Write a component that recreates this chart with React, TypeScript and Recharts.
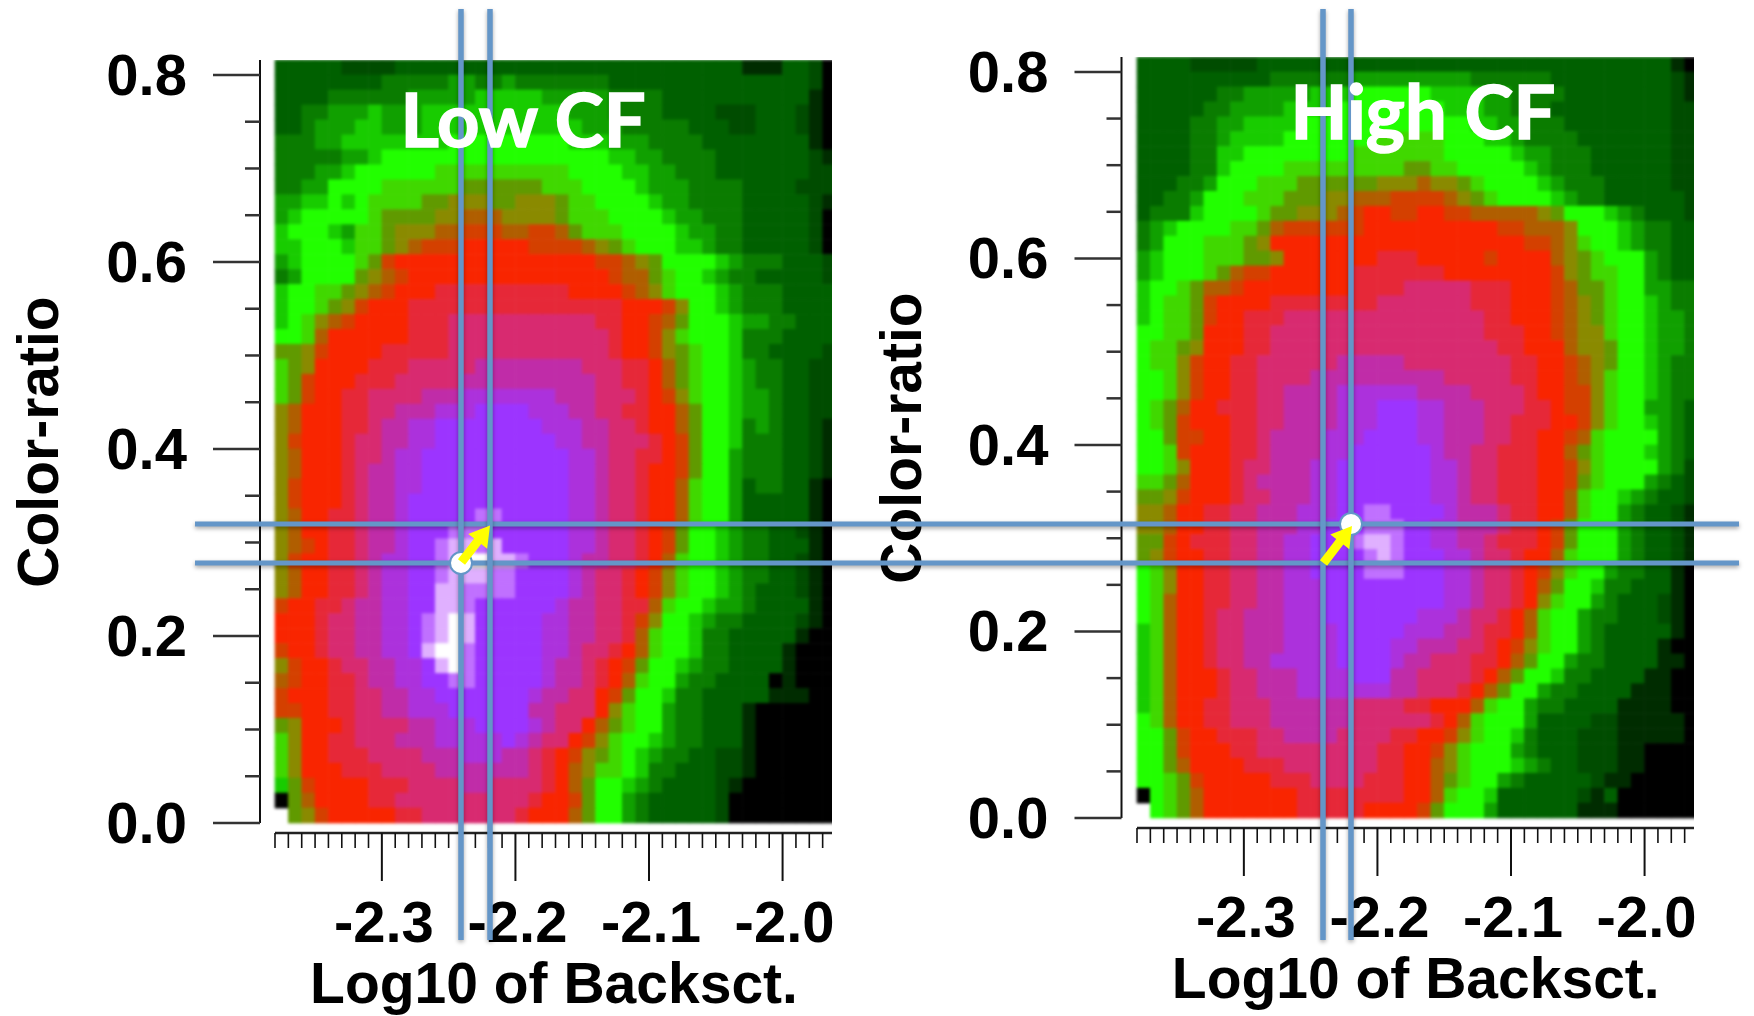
import React from "react";
import {
  ScatterChart,
  Scatter,
  XAxis,
  YAxis,
  ReferenceLine,
  Label,
} from "recharts";

// density level -> colour, from black through green, red and purple to white
const levelKeys = "0123456789abcdefghijkl";
const levelColors = [
  "#000000", "#002c00", "#004c00", "#006000", "#0a7c00", "#10a000", "#18cc00", "#22ff00",
  "#40d800", "#609a00", "#8a8a00", "#b05e00", "#d44000", "#f92500", "#e62838", "#d82a70",
  "#c02ca8", "#ac31dc", "#9c34ff", "#c070ff", "#e0b0ff", "#ffffff",
];

// top row first, one character per cell, "." is an empty cell
const lowCfRows = [
  "333332 222333 333333 333333 333333 333331 113320",
  "333333 334444 455445 444444 433333 333333 333320",
  "333344 444455 555666 665555 544443 333333 333310",
  "334455 565556 666666 666655 544443 333222 333210",
  "334555 665556 666666 666665 554444 433322 333210",
  "444556 666666 677777 777766 655544 443333 333310",
  "444445 567777 777777 777777 766554 444333 333321",
  "444556 777777 888888 888877 776655 444333 333322",
  "445577 778888 889999 998887 777655 544443 333222",
  "556676 788889 9aaa99 aaa988 777765 544443 333321",
  "567777 789999 aabbba aaa988 877776 554443 333320",
  "677765 889aaa bbcccb bccb98 887777 655443 333320",
  "667776 889abc ccdddd dccccb a98777 665443 333320",
  "567777 89cddd dddddd dddddd ccba97 777654 443332",
  "457777 9abcdd dddddd dddddd dcbb98 776544 333332",
  "677889 abcddd eeeeee eeeedd ddcba8 777654 443333",
  "67789a cdddee eeeeee eeeeee eedddc a77654 443333",
  "678abc ddddee efffff ffffff eeddcb 977765 544333",
  "778bdd ddddee efffff ffffff feddca 877764 443333",
  "99acdd ddeeee efffff ffffff feddca 987764 433332",
  "89addd deeeff fffggg gggggf ffeedb 987765 443322",
  "89cddd eeefff ffgggg gggggg ffeedb 987765 443322",
  "89cdde effffg gghhhh hhhggg fffedc a87765 543322",
  "abddde effggg hhhiii ihhhgg ffeedd b97765 543322",
  "abddde efgghh iiiiii iihhhg gffedd b97764 543321",
  "acddde ffgghh iiiiii iiihhg gfffed c97764 443321",
  "abddde ffghhi iiiiii iiiihh gffeed c97754 443321",
  "abddde fgghhi iiiiii iiiihh gffedd c97754 443321",
  "acddde fgghhi iiiiii iiiihh gffedd b87753 443310",
  "acddde fgghii iiiiii iiiihh gffedd b87753 333310",
  "abddee fgghii iiijji iiiihh gffedd b87753 333310",
  "abddee fgghii ijjjii iiiihh gffedc 977654 433210",
  "abcdee fgghii jkkjki iiiihh gffedc 977654 433310",
  "acddee fghhii jkllkk jiiihg gffedb 877654 433210",
  "abddee fghhii jkkkjj iiiihg ffedca 877654 433210",
  "abddee fghhii kkjjjj iiiihg ffedca 877654 333210",
  "cddeef gghhii kkjiii iiihgg ffeeb8 776554 333310",
  "dddeff gghhij klkiii iihhgg ffeca7 765443 333210",
  "dddeff gghhij klkiii iihhgg ffeb87 764433 333100",
  "cddeff gghhik lljiii iihhgf fedb87 764433 331000",
  "acddef fgghhi kljiii iihggf edc977 654433 331000",
  "bcddee fgghhi ijjiii iihggf edb877 544333 301000",
  "cdddee ffgghh iiiiii ihggff dc9776 443333 311100",
  "ccddee ffgghh hiiiii iggfff da8775 443331 000000",
  "9addde ffffgg hhhiii ihgffd b98775 443331 000000",
  "8addee fffggg hhhhhi hgffdc a87765 443331 000000",
  "8addee effffg gghhhg gfedca 987654 433221 000000",
  "8addde eeffff gggggg gfedba 887644 333221 000000",
  "69cddd deeeff ffggff ffedb9 776543 333210 000000",
  "09bddd deefff ffffff feddc9 775433 333200 000000",
  ".9acdd dddeef ffffff edddb9 775433 333200 000000",
];

const highCfRows = [
  "333322 222333 333333 333333 333333 333333 333310",
  "333333 333344 444455 555555 544444 433333 333321",
  "333333 445555 566677 777766 665544 443333 333321",
  "333334 455556 666777 777776 665544 433333 333322",
  "333344 556666 777777 777777 766554 443333 333322",
  "333344 566667 777777 888887 776654 444333 333322",
  "333344 667777 777788 888887 777765 544433 333322",
  "333344 677778 888888 889988 777776 544433 333322",
  "333445 777888 999999 aaabaa 987777 654443 333322",
  "334457 778889 99aabb bccccb a98777 765443 333332",
  "344467 777899 aaabcd dccddc cbbbbb a97776 543332",
  "456777 7889bc cccccd dddddd dddccb bba777 654433",
  "457778 889add dddddd dddddd dddddc cba877 654433",
  "567778 8899ad dddddd eeeddd ddcddd dba987 775433",
  "567778 9bccdd ddddee eeeeed dddddd dca988 775433",
  "67789b bcdddd ddddee eeffff feeedd dcb998 775544",
  "67889c ddddee eeeeee ffffff feeedd dcba98 776544",
  "67889c ddeeef ffffff ffffff ffeedd dcba98 776554",
  "77889d ddeeff ffffff ffffff ffeeed dcbaa8 776554",
  "7889ad ddeeff ffffff ffffff fffeed ddbaa9 776554",
  "788acd deefff fffggg ggffff ffffee ddcba9 776544",
  "778acd deefff fggggg gggggf ffffee ddcba8 776544",
  "778acd deeffg ggghhh hhhggg gffffe ddcca8 776544",
  "789bdd eeeffg ggghhh iiihhg ggfffe edcca8 775543",
  "789cdd deeffg ggghhh iiihhg ggffee eddca8 776543",
  "779ccd deefgg gghhhi iiihhg ggffee ddcb87 777543",
  "778cdd deefgg gghhii iiiihg gffeee ddb987 776543",
  "778add deffgg ghhiii iiiihh gffeee ddca87 777542",
  "889bdd defggg ghhiii iiiihh gffeee ddc987 775432",
  "99acdd deffgg ghhiii iiiihh gffeee ddb877 654332",
  "aabdde effggg hhhiij jiiiih gggfee ddb877 543321",
  "aabdde effggg hhiiij jjiihh gggfee dc9777 543321",
  "99cdee effggh hiiijk kjiihh ggfeee dc9777 543321",
  "9acdde effggh hiiiij kjiiih hgffed db8777 543321",
  "78adde effggh hiiiij jjiiih hgffed ca8775 443310",
  "78adde effggh hhiiii iiiiih hgffed b97764 433310",
  "78bdde effggh hhiiii iiiiih hgffed a87754 333210",
  "78bdde ffgggh hhiiii iiihhh gffedb 877544 333210",
  "68bdde ffgggh hhhiii iihhhg gfeedb 877543 333310",
  "68bdde ffgggh hhhiii ihhggg ffedca 877543 333100",
  "68bdde ffgghh hhhiii ihggff feedb9 775443 333110",
  "68bddd effggg hhhhii iggfff fedb97 764433 331100",
  "68bddd effggg hhhhhh hggfff edb977 544333 311100",
  "68bdde efffgg ggggff ffeedd db8775 443333 111100",
  "78bdde efffgg ggggff ffffed b87775 333322 111110",
  "779cdd eeeffg gggfff feeddc a87764 333222 111110",
  "779cdd deefff ffffff eeddca 877754 333222 110000",
  "779bdd ddeeef ffffff eeddba 877765 433222 110000",
  "7789cd ddddee effffe eeddb9 877543 333321 100000",
  "0789bd dddddd eeeeee eeddb8 776333 333213 000000",
  ".789bd dddddd eeeeed dddc97 775333 333111 000000",
];

const xStart = -2.38;
const xEnd = -1.963;
const xCell = 0.01;
const yCell = 0.016;
const yTop = 0.816;

const xTicks = [
  -2.38, -2.37, -2.36, -2.35, -2.34, -2.33, -2.32, -2.31, -2.3, -2.29, -2.28, -2.27, -2.26, -2.25,
  -2.24, -2.23, -2.22, -2.21, -2.2, -2.19, -2.18, -2.17, -2.16, -2.15, -2.14, -2.13, -2.12, -2.11,
  -2.1, -2.09, -2.08, -2.07, -2.06, -2.05, -2.04, -2.03, -2.02, -2.01, -2.0, -1.99, -1.98, -1.97,
];
const xMajor = [-2.3, -2.2, -2.1, -2.0];
const yTicks = [0, 0.05, 0.1, 0.15, 0.2, 0.25, 0.3, 0.35, 0.4, 0.45, 0.5, 0.55, 0.6, 0.65, 0.7, 0.75, 0.8];
const yMajor = [0, 0.2, 0.4, 0.6, 0.8];

// reference values marked across the two panels, in page pixels on the overlay
const lowCfLines = [461, 490];
const highCfLines = [1323, 1351];
const crossLines = [524, 563];
const markers = [
  { x: 461, y: 563 },
  { x: 1351, y: 524 },
];
const arrows = [
  { x: 461.5, y: 562, tipX: 490, tipY: 525.5 },
  { x: 1323.5, y: 563, tipX: 1352, tipY: 526 },
];
const titles = [
  { x: 523, y: 147, text: "Low CF" },
  { x: 1423, y: 139, text: "High CF" },
];

const axisFont = "'Liberation Sans', Arial, sans-serif";
const lineBlue = "#6496c8";

function cellsFrom(rows: string[]) {
  const cells: { x: number; y: number; level: string }[] = [];
  rows.forEach((row, r) => {
    row.replace(/ /g, "").split("").forEach((level, c) => {
      if (level === ".") return;
      cells.push({ x: xStart + xCell * (c + 0.5), y: yTop - yCell * (r + 0.5), level });
    });
  });
  return cells;
}

function XTick({ x, y, payload }: any) {
  const major = xMajor.includes(payload.value);
  return (
    <g>
      <line x1={x} x2={x} y1={y} y2={y + (major ? 48 : 15)} stroke="#111" strokeWidth={major ? 2 : 1.6} />
      {major && (
        <text x={x + 2} y={y + 109} textAnchor="middle" fontFamily={axisFont} fontWeight="bold" fontSize={58} fill="#000">
          {payload.value.toFixed(1)}
        </text>
      )}
    </g>
  );
}

function YTick({ x, y, payload }: any) {
  const major = yMajor.includes(payload.value);
  return (
    <g>
      <line x1={x} x2={x - (major ? 47 : 15)} y1={y} y2={y} stroke="#333" strokeWidth={2.5} />
      {major && (
        <text x={x - 73} y={y + 20} textAnchor="end" fontFamily={axisFont} fontWeight="bold" fontSize={58} fill="#000">
          {payload.value.toFixed(1)}
        </text>
      )}
    </g>
  );
}

function Panel({ rows, left, plotLeft, plotRight, plotTop, plotBottom, zero, width, ylabel }: any) {
  const pxPerX = 1336;
  const pxPerY = (zero - plotTop) / yTop;
  const xMin = xStart - plotLeft.gap / pxPerX;
  const yMin = -(plotBottom - zero) / pxPerY;
  const cellW = xCell * pxPerX + 0.6;
  const cellH = yCell * pxPerY + 0.6;
  const data = cellsFrom(rows);

  return (
    <div style={{ position: "absolute", left, top: 0 }}>
      <ScatterChart
        width={width}
        height={1016}
        margin={{ top: plotTop, right: width - (plotRight - left), bottom: 0, left: 0 }}
      >
        <XAxis
          type="number"
          dataKey="x"
          domain={[xMin, xEnd]}
          ticks={xTicks}
          interval={0}
          allowDataOverflow
          height={1016 - plotBottom}
          axisLine={false}
          tickLine={false}
          tickSize={0}
          tickMargin={0}
          tick={(p: any) => <XTick {...p} />}
        >
          <Label
            value="Log10 of Backsct."
            position="insideBottom"
            offset={plotBottom === 833 ? 13 : 18}
            dx={8}
            fontFamily={axisFont}
            fontWeight="bold"
            fontSize={57}
            fill="#000"
          />
        </XAxis>
        <YAxis
          type="number"
          dataKey="y"
          domain={[yMin, yTop]}
          ticks={yTicks}
          interval={0}
          allowDataOverflow
          width={plotLeft.x - left}
          axisLine={false}
          tickLine={false}
          tickSize={0}
          tickMargin={0}
          tick={(p: any) => <YTick {...p} />}
        >
          <Label
            content={() => (
              <text
                transform={`translate(${ylabel.x},${ylabel.y}) rotate(-90)`}
                textAnchor="middle"
                fontFamily={axisFont}
                fontWeight="bold"
                fontSize={57}
                fill="#000"
              >
                Color-ratio
              </text>
            )}
          />
        </YAxis>
        <Scatter
          className="heat"
          data={data}
          isAnimationActive={false}
          shape={(p: any) => (
            <rect
              x={p.cx - cellW / 2}
              y={p.cy - cellH / 2}
              width={cellW}
              height={cellH}
              fill={levelColors[levelKeys.indexOf(p.payload.level)]}
            />
          )}
        />
        <ReferenceLine
          segment={[
            { x: xMin, y: 0 },
            { x: xMin, y: yTop },
          ]}
          stroke="#111"
          strokeWidth={2}
        />
        <ReferenceLine
          segment={[
            { x: xStart, y: yMin },
            { x: xEnd, y: yMin },
          ]}
          stroke="#222"
          strokeWidth={2.5}
        />
      </ScatterChart>
    </div>
  );
}

function ArrowShape({ cx, cy, payload }: any) {
  const dx = payload.tipX - payload.x;
  const dy = payload.tipY - payload.y;
  const len = Math.hypot(dx, dy);
  const ux = dx / len;
  const uy = dy / len;
  const nx = -uy;
  const ny = ux;
  const neck = len - 20;
  const pt = (along: number, side: number) =>
    `${cx + ux * along + nx * side},${cy + uy * along + ny * side}`;
  return (
    <polygon
      points={[pt(0, 4.5), pt(neck, 4.5), pt(neck, 12), pt(len, 0), pt(neck, -12), pt(neck, -4.5), pt(0, -4.5)].join(" ")}
      fill="#ffff00"
    />
  );
}

function Overlay() {
  const shadow = { filter: "drop-shadow(0 2px 2px rgba(0,0,0,0.35))" };
  return (
    <div style={{ position: "absolute", left: 0, top: 0 }}>
      <ScatterChart width={1754} height={1016} margin={{ top: 0, right: 0, bottom: 0, left: 0 }}>
        <XAxis type="number" dataKey="x" domain={[0, 1754]} hide />
        <YAxis type="number" dataKey="y" domain={[0, 1016]} reversed hide />
        {crossLines.map((y) => (
          <ReferenceLine
            key={y}
            segment={[
              { x: 195, y },
              { x: 1739, y },
            ]}
            stroke={lineBlue}
            strokeWidth={5}
            style={shadow}
          />
        ))}
        {[...lowCfLines, ...highCfLines].map((x) => (
          <ReferenceLine
            key={x}
            segment={[
              { x, y: 9 },
              { x, y: 940 },
            ]}
            stroke={lineBlue}
            strokeWidth={5.5}
            style={shadow}
          />
        ))}
        <Scatter
          data={markers}
          isAnimationActive={false}
          shape={(p: any) => <circle cx={p.cx} cy={p.cy} r={11} fill="#fff" stroke={lineBlue} strokeWidth={2} />}
        />
        <Scatter data={arrows} isAnimationActive={false} shape={(p: any) => <ArrowShape {...p} />} />
        <Scatter
          data={titles}
          isAnimationActive={false}
          shape={(p: any) => (
            <text
              x={p.cx}
              y={p.cy}
              textAnchor="middle"
              fontFamily="Lato, 'Open Sans', sans-serif"
              fontWeight="bold"
              fontSize={74}
              fill="#fff"
              stroke="#fff"
              strokeWidth={1.5}
            >
              {p.payload.text}
            </text>
          )}
        />
      </ScatterChart>
    </div>
  );
}

export default function App() {
  return (
    <div style={{ position: "absolute", left: 0, top: 0, width: 1754, height: 1016, background: "#fff", overflow: "hidden" }}>
      <style>{`.heat{filter:blur(1.6px)}`}</style>
      <div style={{ filter: "blur(0.6px)" }}>
        <Panel
          rows={lowCfRows}
          left={0}
          width={860}
          plotLeft={{ x: 260, gap: 15 }}
          plotRight={832}
          plotTop={60}
          plotBottom={833}
          zero={823}
          ylabel={{ x: 58, y: 442 }}
        />
        <Panel
          rows={highCfRows}
          left={860}
          width={894}
          plotLeft={{ x: 1121.5, gap: 15.5 }}
          plotRight={1694}
          plotTop={57}
          plotBottom={828}
          zero={818}
          ylabel={{ x: 61, y: 438 }}
        />
      </div>
      <Overlay />
    </div>
  );
}
